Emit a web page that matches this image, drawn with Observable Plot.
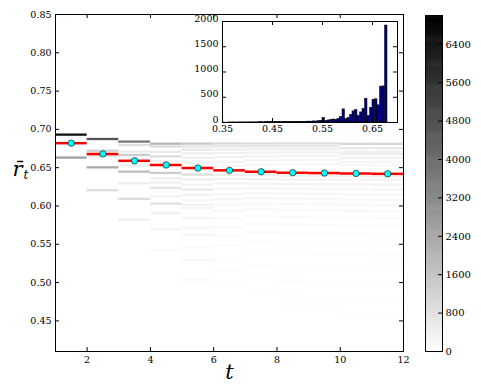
<!DOCTYPE html>
<html><head><meta charset="utf-8">
<script src="https://cdn.jsdelivr.net/npm/d3@7"></script>
<script src="https://cdn.jsdelivr.net/npm/@observablehq/plot@0.6"></script>
<style>
body{margin:0;background:#fff;}
#wrap{position:relative;width:481px;height:390px;overflow:hidden;}
#wrap > svg{position:absolute;}
#wrap svg, #wrap svg text{font-family:"DejaVu Serif","Liberation Serif",serif !important;}
</style></head><body><div id="wrap"></div>
<script>
// ---------- data ----------
const tStart = [1,2,3,4,5,6,7,8,9,10,11];
const meanR = [0.682, 0.668, 0.659, 0.6535, 0.6495, 0.6465, 0.6447, 0.6435, 0.643, 0.6425, 0.642];

// stripes per time column: [r, count]
const col1 = [[0.6925, 6500], [0.6625, 2600]];
const col2 = [[0.6868, 4700], [0.6715, 1300], [0.6652, 900], [0.6498, 2300], [0.6200, 930]];
const col3 = [[0.6834, 3700], [0.6790, 900], [0.6705, 500], [0.6660, 1400], [0.6524, 450], [0.6442, 1850], [0.6290, 470], [0.6086, 930], [0.5816, 470]];
const col4 = [[0.6807, 2000], [0.6770, 930], [0.6700, 600], [0.6640, 930], [0.6580, 400], [0.6425, 1400], [0.6355, 470], [0.6300, 470], [0.6230, 730], [0.6120, 350], [0.6024, 820], [0.5900, 350], [0.5690, 270], [0.5410, 160]];
const col5 = [[0.6807, 1500], [0.6770, 700], [0.6729, 600], [0.6680, 450], [0.6621, 470], [0.6560, 350], [0.6403, 930], [0.6338, 470], [0.6270, 300], [0.6207, 600], [0.6142, 400], [0.6070, 250], [0.6010, 400], [0.5967, 300], [0.5838, 270], [0.5711, 250], [0.5620, 270], [0.5450, 150], [0.5290, 200], [0.5030, 150]];
const col6 = [[0.6810, 1000], [0.6775, 700], [0.6730, 450], [0.6685, 400], [0.6630, 350], [0.6570, 300], [0.6520, 250], [0.6400, 500], [0.6350, 400], [0.6290, 350], [0.6220, 300], [0.6150, 250], [0.6080, 250], [0.6010, 200], [0.5930, 180], [0.5830, 150], [0.5720, 150], [0.5600, 120], [0.5480, 100], [0.5300, 100], [0.5150, 80], [0.4950, 70]];
const col7 = [[0.6810, 950], [0.6775, 650], [0.6735, 450], [0.6690, 380], [0.6640, 330], [0.6590, 280], [0.6530, 250], [0.6395, 420], [0.6345, 380], [0.6285, 330], [0.6225, 280], [0.6160, 240], [0.6095, 220], [0.6025, 200], [0.5950, 170], [0.5860, 150], [0.5760, 130], [0.5650, 120], [0.5520, 100], [0.5380, 90], [0.5220, 80], [0.5050, 70], [0.4850, 60]];
const col8 = [[0.6810, 900], [0.6775, 620], [0.6735, 430], [0.6690, 360], [0.6645, 320], [0.6595, 270], [0.6540, 230], [0.6390, 400], [0.6340, 360], [0.6280, 320], [0.6220, 270], [0.6155, 230], [0.6090, 210], [0.6020, 190], [0.5940, 160], [0.5850, 140], [0.5750, 130], [0.5640, 110], [0.5510, 100], [0.5370, 90], [0.5200, 80], [0.5020, 70], [0.4820, 60], [0.4650, 50]];
const col9 = [[0.6810, 880], [0.6775, 600], [0.6735, 420], [0.6690, 350], [0.6645, 310], [0.6595, 260], [0.6540, 220], [0.6388, 380], [0.6338, 350], [0.6278, 310], [0.6215, 260], [0.6150, 220], [0.6085, 200], [0.6015, 180], [0.5935, 160], [0.5845, 140], [0.5745, 120], [0.5630, 110], [0.5500, 95], [0.5360, 85], [0.5190, 75], [0.5000, 65], [0.4800, 55], [0.4620, 45]];
const col10 = [[0.6805, 1150], [0.6750, 600], [0.6700, 420], [0.6670, 450], [0.6620, 400], [0.6570, 260], [0.6530, 220], [0.6385, 360], [0.6338, 340], [0.6275, 300], [0.6210, 250], [0.6145, 215], [0.6080, 195], [0.6010, 175], [0.5930, 155], [0.5840, 135], [0.5740, 115], [0.5625, 105], [0.5495, 90], [0.5350, 80], [0.5180, 70], [0.4990, 60], [0.4790, 50], [0.4600, 45]];
const col11 = [[0.6805, 1150], [0.6750, 600], [0.6700, 420], [0.6670, 450], [0.6620, 400], [0.6570, 255], [0.6525, 215], [0.6382, 350], [0.6335, 330], [0.6270, 290], [0.6205, 245], [0.6140, 210], [0.6075, 190], [0.6005, 170], [0.5925, 150], [0.5835, 130], [0.5735, 110], [0.5620, 100], [0.5490, 90], [0.5345, 80], [0.5175, 70], [0.4985, 60], [0.4780, 50], [0.4590, 45]];
const columns = [col1, col2, col3, col4, col5, col6, col7, col8, col9, col10, col11];

const xTicks = [2, 4, 6, 8, 10, 12];
const yTicks = [0.45, 0.50, 0.55, 0.60, 0.65, 0.70, 0.75, 0.80, 0.85];
const cbTicks = [0, 800, 1600, 2400, 3200, 4000, 4800, 5600, 6400];

// inset histogram (bin lefts from 0.35, width 0.005)
const histStart = 0.35, histStep = 0.005;
const histCounts = [1,0,1,1,2,1,2,2,3,2, 3,3,4,3,4,5,4,6,5,6,
  7,6,8,7,9,8,10,11,10,12,
  13,12,15,14,18,16,22,20,28,35,
  90,30,40,50,60,55,75,110,260,65,90,150,220,245,130,200,270,470,130,290,450,460,340,710,715,1920];
const insetXTicks = [0.35, 0.45, 0.55, 0.65];
const insetYTicks = [0, 500, 1000, 1500, 2000];

// ---------- tables ----------
const cells = columns.flatMap((col, i) => col.map(([r, n]) => ({t: tStart[i], r, n})));
const means = tStart.map((t, i) => ({t, r: meanR[i]}));
const hist = histCounts.map((n, i) => ({x1: histStart + i*histStep, x2: histStart + (i+1)*histStep, n}));

const FONT = "'DejaVu Serif', 'Liberation Serif', serif";
const colorOpt = {type: "linear", domain: [0, 7000], range: ["white", "black"], interpolate: "rgb"};
const TL = 4;
const intFmt = d3.format("d");
const wrap = document.getElementById("wrap");

// ---------- main ----------
const W = 481, H = 390, mL = 55, mR = 78, mT = 14, mB = 39;
const fw = W - mL - mR, fh = H - mT - mB;
const binH = 0.003;
const main = Plot.plot({
  width: W, height: H, marginLeft: mL, marginRight: mR, marginTop: mT, marginBottom: mB,
  style: {fontFamily: FONT, fontSize: "9.5px", background: "white", color: "black"},
  x: {domain: [1, 12]}, y: {domain: [0.41, 0.85]},
  color: colorOpt,
  marks: [
    Plot.rect(cells, {x1: "t", x2: d => d.t + 1, y1: d => d.r - binH/2, y2: d => d.r + binH/2, fill: "n"}),
    Plot.ruleY(means, {x1: "t", x2: d => d.t + 1, y: "r", stroke: "red", strokeWidth: 2.5}),
    Plot.dot(means, {x: d => d.t + 0.5, y: "r", r: 3.2, fill: "cyan", stroke: "black", strokeWidth: 0.6}),
    Plot.frame({stroke: "black"}),
    Plot.ruleX(xTicks, {x: d => d, insetTop: fh - TL}),
    Plot.ruleX(xTicks, {x: d => d, insetBottom: fh - TL}),
    Plot.ruleY(yTicks, {y: d => d, insetRight: fw - TL}),
    Plot.ruleY(yTicks, {y: d => d, insetLeft: fw - TL}),
    Plot.axisX(xTicks, {tickSize: 0, tickPadding: 5, label: null}),
    Plot.axisY(yTicks, {tickSize: 0, tickPadding: 4, tickFormat: d3.format(".2f"), label: null}),
    Plot.text(["t"], {frameAnchor: "bottom", dy: 27, fontSize: 21, fontStyle: "italic"}),
    Plot.text(["r\u0304"], {frameAnchor: "left", dx: -43, dy: -13.5, fontSize: 21, fontStyle: "italic"}),
    Plot.text(["t"], {frameAnchor: "left", dx: -32, dy: -8, fontSize: 12, fontStyle: "italic"})
  ]
});
main.style.left = "0px"; main.style.top = "0px";
wrap.appendChild(main);

// ---------- colorbar ----------
const cbL = 25, cbR = 39, cbT = 15, cbB = 39;
const cbW = 81, cbFw = cbW - cbL - cbR;
const cbSteps = d3.range(0, 7000, 20);
const cb = Plot.plot({
  width: cbW, height: H, marginLeft: cbL, marginRight: cbR, marginTop: cbT, marginBottom: cbB,
  style: {fontFamily: FONT, fontSize: "10px", background: "transparent", color: "black", overflow: "visible"},
  x: {domain: [0, 1], axis: null}, y: {domain: [0, 7000]},
  color: colorOpt,
  marks: [
    Plot.ruleY(cbSteps, {y: d => d + 10, stroke: d => d, strokeWidth: 1.6}),
    Plot.frame({stroke: "black"}),
    Plot.ruleY(cbTicks, {y: d => d, insetLeft: cbFw - TL}),
    Plot.axisY(cbTicks, {anchor: "right", tickSize: 0, tickPadding: 3, tickFormat: intFmt, label: null})
  ]
});
cb.style.left = "400px"; cb.style.top = "0px";
wrap.appendChild(cb);

// ---------- inset ----------
const iL = 40, iR = 6, iT = 6, iB = 18;
const iFw = 175, iFh = 101;
const inset = Plot.plot({
  width: iL + iFw + iR, height: iT + iFh + iB, marginLeft: iL, marginRight: iR, marginTop: iT, marginBottom: iB,
  style: {fontFamily: FONT, fontSize: "9.5px", background: "transparent", color: "black", overflow: "visible"},
  x: {domain: [0.35, 0.70]}, y: {domain: [0, 2000]},
  marks: [
    Plot.frame({fill: "white"}),
    Plot.rect(hist, {x1: "x1", x2: "x2", y1: 0, y2: "n", fill: "#000080", stroke: "black", strokeWidth: 0.5}),
    Plot.frame({stroke: "black"}),
    Plot.ruleX(insetXTicks, {x: d => d, insetTop: iFh - TL}),
    Plot.ruleX(insetXTicks, {x: d => d, insetBottom: iFh - TL}),
    Plot.ruleY(insetYTicks, {y: d => d, insetRight: iFw - TL}),
    Plot.ruleY(insetYTicks, {y: d => d, insetLeft: iFw - TL}),
    Plot.axisX(insetXTicks, {tickSize: 0, tickPadding: 3, tickFormat: d3.format(".2f"), label: null}),
    Plot.axisY(insetYTicks, {tickSize: 0, tickPadding: 4, tickFormat: intFmt, dy: -3, label: null})
  ]
});
inset.style.left = (222 - iL) + "px"; inset.style.top = (21 - iT) + "px";
wrap.appendChild(inset);
</script></body></html>
